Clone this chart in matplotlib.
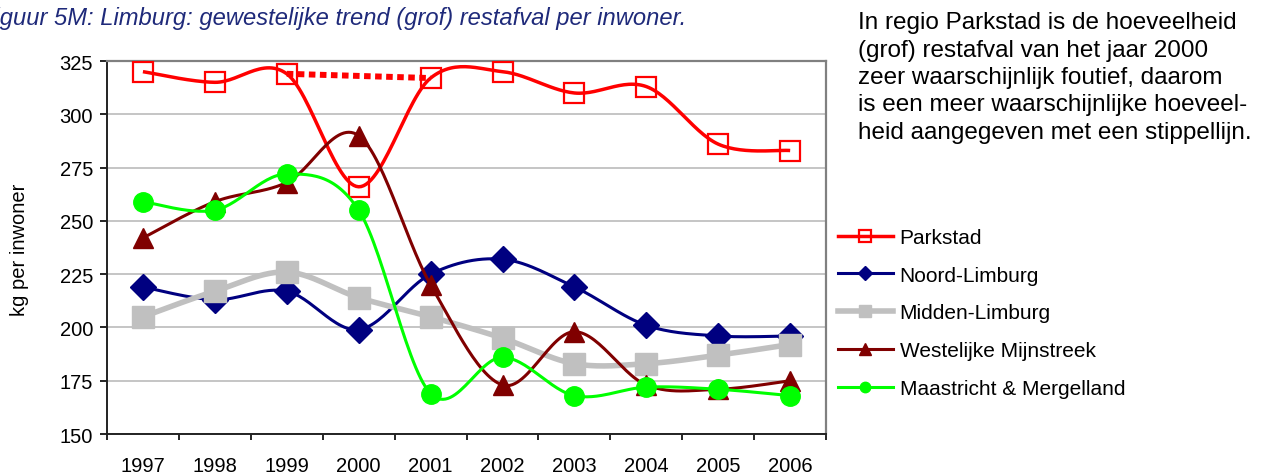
#!/usr/bin/env python3
"""
Limburg: regional trend of (bulk) residual waste per inhabitant, 1997-2006.
"""
import numpy as np
import matplotlib
matplotlib.use("Agg")
import matplotlib.pyplot as plt
from matplotlib.lines import Line2D

years = ["1997", "1998", "1999", "2000", "2001", "2002", "2003", "2004", "2005", "2006"]

parkstad = [320, 315, 319, 266, 317, 320, 310, 313, 286, 283]
noord_limburg = [219, 213, 217, 199, 225, 232, 219, 201, 196, 196]
midden_limburg = [205, 217, 226, 214, 205, 195, 183, 183, 187, 192]
westelijke_mijnstreek = [242, 259, 268, 290, 220, 173, 198, 173, 171, 175]
maastricht = [259, 255, 272, 255, 169, 186, 168, 172, 171, 168]

# likely value for Parkstad 2000 (dotted line between 1999 and 2001)
parkstad_dotted = [319, 317]

series_names = ["Parkstad", "Noord-Limburg", "Midden-Limburg",
                "Westelijke Mijnstreek", "Maastricht & Mergelland"]

note_lines = [
    "In regio Parkstad is de hoeveelheid",
    "(grof) restafval van het jaar 2000",
    "zeer waarschijnlijk foutief, daarom",
    "is een meer waarschijnlijke hoeveel-",
    "heid aangegeven met een stippellijn.",
]


def smooth(x, y, n=30):
    """Excel-like smoothed line: Catmull-Rom through the points."""
    x = np.asarray(x, float)
    y = np.asarray(y, float)
    px = np.concatenate([[x[0]], x, [x[-1]]])
    py = np.concatenate([[y[0]], y, [y[-1]]])
    xs, ys = [], []
    t = np.linspace(0, 1, n)
    for i in range(1, len(px) - 2):
        p0 = np.array([px[i - 1], py[i - 1]])
        p1 = np.array([px[i], py[i]])
        p2 = np.array([px[i + 1], py[i + 1]])
        p3 = np.array([px[i + 2], py[i + 2]])
        c1 = p1 + (p2 - p0) / 6.0
        c2 = p2 - (p3 - p1) / 6.0
        b = ((1 - t) ** 3)[:, None] * p1 + (3 * (1 - t) ** 2 * t)[:, None] * c1 \
            + (3 * (1 - t) * t ** 2)[:, None] * c2 + (t ** 3)[:, None] * p2
        xs.extend(b[:, 0])
        ys.extend(b[:, 1])
    return xs, ys


def main():
    plt.rcParams["font.family"] = ["Liberation Sans", "DejaVu Sans"]
    fig = plt.figure(figsize=(12.69, 4.77), dpi=100)
    ax = fig.add_axes([0.0843, 0.088, 0.5667, 0.782])

    x = np.arange(len(years))
    # values, colour, line width, marker, size, face, edge width, legend size
    styles = [
        (parkstad, "#FF0000", 2.5, "s", 15, "none", 1.6, 8),
        (noord_limburg, "#000080", 2.2, "D", 13, "#000080", 1.0, 7),
        (midden_limburg, "#C0C0C0", 4.0, "s", 16.5, "#C0C0C0", 1.0, 8),
        (westelijke_mijnstreek, "#800000", 2.2, "^", 15, "#800000", 1.0, 9),
        (maastricht, "#00FF00", 2.2, "o", 14, "#00FF00", 1.0, 7.5),
    ]

    handles = []
    for i, (vals, col, lw, mk, ms, mfc, mew, lms) in enumerate(styles):
        sx, sy = smooth(x, vals)
        z = 3 + i * 2
        ax.plot(sx, sy, color=col, lw=lw, zorder=z, solid_capstyle="butt")
        ax.plot(x, vals, ls="none", marker=mk, ms=ms, mfc=mfc, mec=col,
                mew=mew, zorder=z + 1)
        if i == 0:
            ax.plot([2, 4], parkstad_dotted, color=col, lw=4.3,
                    dashes=(1.1, 0.75), dash_capstyle="butt", zorder=z)
        handles.append(Line2D([], [], color=col, lw=lw, marker=mk,
                              ms=lms, mfc=mfc, mec=col, mew=mew))

    ax.set_xlim(-0.5, len(years) - 0.5)
    ax.set_ylim(150, 325)
    ax.set_yticks(range(150, 326, 25))
    ax.set_xticks(x)
    ax.set_xticklabels(years)
    ax.set_xticks(np.arange(-0.5, len(years), 1), minor=True)
    ax.tick_params(axis="x", which="major", length=0, pad=16, labelsize=14.5)
    ax.tick_params(axis="x", which="minor", length=4, width=1.2, direction="out")
    ax.tick_params(axis="y", length=5, width=1.2, direction="out", labelsize=14.5,
                   pad=5)
    ax.grid(axis="y", color="#C0C0C0", lw=1.3, zorder=0)
    ax.set_axisbelow(True)
    for side in ("top", "right"):
        ax.spines[side].set_color("#808080")
        ax.spines[side].set_linewidth(1.6)
    for side in ("left", "bottom"):
        ax.spines[side].set_color("#222222")
        ax.spines[side].set_linewidth(1.4)

    fig.text(0.015, 0.476, "kg per inwoner", rotation=90, fontsize=14.5,
             ha="center", va="center")

    fig.text(-0.0158, 0.9476, "Figuur 5M: Limburg: gewestelijke trend (grof) "
             "restafval per inwoner.", fontsize=17.1, style="italic",
             color="#1F2A7A", ha="left", va="baseline")

    for j, line in enumerate(note_lines):
        fig.text(0.6765, 0.939 - j * 0.0575, line, fontsize=17.5,
                 ha="left", va="baseline")

    fig.legend(handles, series_names, loc="upper left",
               bbox_to_anchor=(0.660, 0.52), frameon=False, fontsize=15,
               handlelength=2.64, handletextpad=0.34, labelspacing=0.9,
               borderaxespad=0, borderpad=0)

    fig.savefig("out.png", dpi=100)


if __name__ == "__main__":
    main()
